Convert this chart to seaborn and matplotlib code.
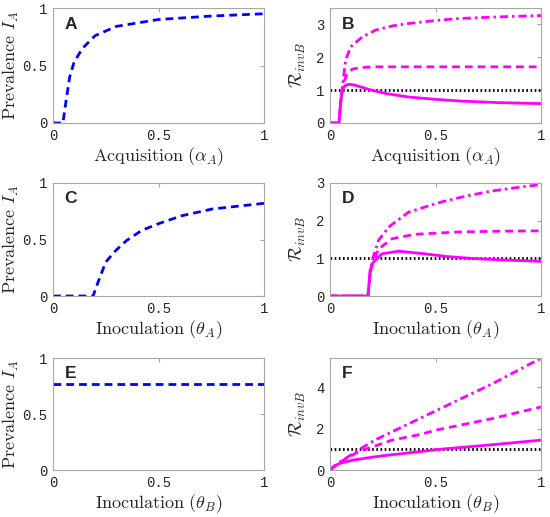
import numpy as np
import pandas as pd
import matplotlib
matplotlib.use("Agg")
import matplotlib.pyplot as plt
import seaborn as sns

# ---------------- data ----------------
# Panel A: prevalence I_A vs acquisition alpha_A
a_x = [0.0, 0.047, 0.06, 0.079, 0.10, 0.14, 0.20, 0.30, 0.50, 0.75, 1.0]
a_y = [0.0, 0.0, 0.17, 0.40, 0.53, 0.65, 0.76, 0.84, 0.90, 0.93, 0.95]

# Panel C: prevalence I_A vs inoculation theta_A
c_x = [0.0, 0.19, 0.217, 0.25, 0.296, 0.348, 0.42, 0.50, 0.61, 0.755, 1.0]
c_y = [0.0, 0.0, 0.14, 0.30, 0.40, 0.49, 0.58, 0.64, 0.71, 0.77, 0.82]

# Panel E: prevalence I_A vs inoculation theta_B
e_x = [0.0, 1.0]
e_y = [0.77, 0.77]

# Panel B: R_invB vs acquisition alpha_A
b_solid_x = [0.0, 0.043, 0.050, 0.058, 0.07, 0.09, 0.12, 0.185, 0.27, 0.375, 0.5, 0.61, 0.8, 1.0]
b_solid_y = [0.0, 0.0, 0.60, 1.00, 1.13, 1.18, 1.15, 1.02, 0.89, 0.79, 0.72, 0.67, 0.62, 0.59]
b_dash_x = [0.0, 0.043, 0.050, 0.058, 0.066, 0.08, 0.106, 0.15, 0.217, 0.5, 1.0]
b_dash_y = [0.0, 0.0, 0.60, 1.00, 1.25, 1.48, 1.64, 1.69, 1.71, 1.71, 1.71]
b_dd_x = [0.0, 0.043, 0.050, 0.058, 0.066, 0.074, 0.098, 0.153, 0.217, 0.30, 0.375, 0.5, 0.61, 0.8, 1.0]
b_dd_y = [0.0, 0.0, 0.60, 1.05, 1.50, 1.91, 2.32, 2.62, 2.83, 2.96, 3.03, 3.12, 3.18, 3.23, 3.27]

# Panel D: R_invB vs inoculation theta_A
d_solid_x = [0.0, 0.18, 0.19, 0.206, 0.246, 0.325, 0.45, 0.55, 0.69, 0.85, 1.0]
d_solid_y = [0.0, 0.0, 0.68, 0.90, 1.12, 1.19, 1.12, 1.05, 0.99, 0.95, 0.92]
d_dash_x = [0.0, 0.18, 0.19, 0.198, 0.23, 0.294, 0.405, 0.61, 0.8, 1.0]
d_dash_y = [0.0, 0.0, 0.55, 0.81, 1.25, 1.52, 1.64, 1.70, 1.72, 1.73]
d_dd_x = [0.0, 0.18, 0.19, 0.20, 0.23, 0.278, 0.373, 0.53, 0.65, 0.77, 0.9, 1.0]
d_dd_y = [0.0, 0.0, 0.60, 0.95, 1.48, 1.83, 2.23, 2.50, 2.66, 2.79, 2.89, 2.96]

# Panel F: R_invB vs inoculation theta_B
f_solid_x = [0.0, 0.02, 0.05, 0.11, 0.20, 0.27, 0.44, 0.50, 0.77, 1.0]
f_solid_y = [0.0, 0.20, 0.33, 0.48, 0.62, 0.71, 0.90, 0.98, 1.22, 1.44]
f_dash_x = [0.0, 0.05, 0.135, 0.294, 0.43, 0.5, 0.77, 1.0]
f_dash_y = [0.0, 0.40, 0.88, 1.44, 1.72, 1.92, 2.48, 3.04]
f_dd_x = [0.0, 0.05, 0.14, 0.214, 0.5, 0.77, 1.0]
f_dd_y = [0.0, 0.40, 1.00, 1.45, 2.85, 4.16, 5.39]

thr_x = [0.0, 1.0]
thr_y = [1.0, 1.0]

panel_letters = ["A", "B", "C", "D", "E", "F"]
xlabels = [r"$\mathrm{Acquisition}\ (\alpha_A)$", r"$\mathrm{Inoculation}\ (\theta_A)$",
           r"$\mathrm{Inoculation}\ (\theta_B)$"]
ylabel_left = r"$\mathrm{Prevalence}\ I_A$"
ylabel_right = r"$\mathcal{R}_{invB}$"

# ---------------- style ----------------
sns.set_style("white")
plt.rcParams["font.family"] = ["Liberation Mono", "DejaVu Sans Mono"]
plt.rcParams["mathtext.fontset"] = "cm"

BLUE = "#0000ff"
MAG = "#ff00ff"
SPINE = "#a6a6a6"
DASH = (0, (2.8, 1.8))
DASHDOT = (0, (3.0, 1.4, 0.9, 1.4))
DOT = (0, (0.6, 0.9))
LW = 2.0

fig = plt.figure(figsize=(5.5, 5.17), dpi=100)
lefts = [53 / 550, 330 / 550]
width = 211 / 550
rows = [(8, 123), (183, 296), (358, 470)]
axes = []
for (top, bot) in rows:
    for l in lefts:
        ax = fig.add_axes([l, 1 - bot / 517, width, (bot - top) / 517])
        axes.append(ax)


def line(ax, x, y, color, ls, lw=LW):
    df = pd.DataFrame({"x": x, "y": y})
    sns.lineplot(data=df, x="x", y="y", ax=ax, color=color, linestyle=ls,
                 linewidth=lw, estimator=None, sort=False)


def style(ax, letter, xlabel, ylabel, ylim, yticks, yticklabels, ylab_x):
    ax.set_xlim(0, 1)
    ax.set_ylim(*ylim)
    ax.set_xticks([0, 0.5, 1])
    ax.set_xticklabels(["0", "0.5", "1"])
    ax.set_yticks(yticks)
    ax.set_yticklabels(yticklabels)
    ax.tick_params(direction="in", length=3, width=0.8, color=SPINE,
                   labelsize=10, top=True, right=True, pad=4)
    for s in ax.spines.values():
        s.set_color(SPINE)
        s.set_linewidth(0.8)
    ax.set_xlabel(xlabel, fontsize=13, labelpad=2)
    ax.set_ylabel(ylabel, fontsize=13)
    ax.yaxis.set_label_coords(ylab_x, 0.5)
    ax.text(0.055, 0.925, letter, transform=ax.transAxes, ha="left", va="top",
            fontsize=12.5, fontweight="bold", family="Liberation Sans")


# Left column
line(axes[0], a_x, a_y, BLUE, DASH)
line(axes[2], c_x, c_y, BLUE, DASH)
line(axes[4], e_x, e_y, BLUE, DASH)
for i, ax in enumerate([axes[0], axes[2], axes[4]]):
    style(ax, panel_letters[2 * i], xlabels[i], ylabel_left, (0, 1),
          [0, 0.5, 1], ["0", "0.5", "1"], -0.15)

# Right column
for ax, (sx, sy, dx, dy, ddx, ddy) in zip(
        [axes[1], axes[3], axes[5]],
        [(b_solid_x, b_solid_y, b_dash_x, b_dash_y, b_dd_x, b_dd_y),
         (d_solid_x, d_solid_y, d_dash_x, d_dash_y, d_dd_x, d_dd_y),
         (f_solid_x, f_solid_y, f_dash_x, f_dash_y, f_dd_x, f_dd_y)]):
    line(ax, thr_x, thr_y, "black", DOT)
    line(ax, ddx, ddy, MAG, DASHDOT)
    line(ax, dx, dy, MAG, DASH)
    line(ax, sx, sy, MAG, "-")

style(axes[1], "B", xlabels[0], ylabel_right, (0, 3.5), [0, 1, 2, 3], ["0", "1", "2", "3"], -0.105)
style(axes[3], "D", xlabels[1], ylabel_right, (0, 3.0), [0, 1, 2, 3], ["0", "1", "2", "3"], -0.105)
style(axes[5], "F", xlabels[2], ylabel_right, (0, 5.4), [0, 2, 4], ["0", "2", "4"], -0.105)

fig.savefig("out.png", dpi=100)
